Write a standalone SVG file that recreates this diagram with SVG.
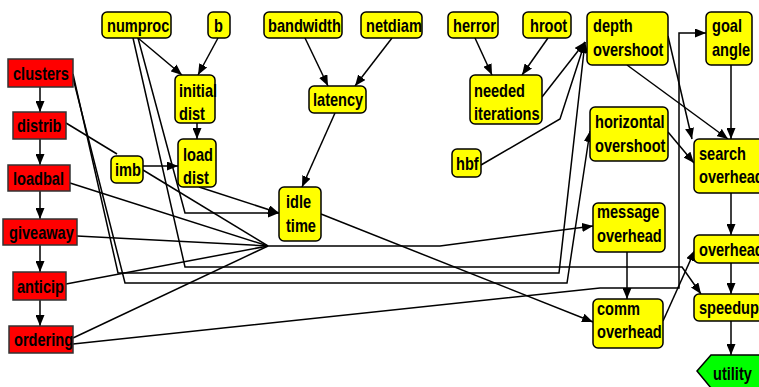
<svg xmlns="http://www.w3.org/2000/svg" width="759" height="387" viewBox="0 0 759 387">
<style>
.y{fill:#ffff00;stroke:#000;stroke-width:1.5}
.r{fill:#ff0000;stroke:#333;stroke-width:1.5}
.g{fill:#00ff00;stroke:#000;stroke-width:1.5}
.t{font-family:"Liberation Sans",Arial,sans-serif;font-weight:bold;font-size:18px;fill:#000}
.e path{fill:none;stroke:#000;stroke-width:1.5}
</style>
<defs>
<marker id="a" markerUnits="userSpaceOnUse" markerWidth="11" markerHeight="9" refX="11" refY="4.5" orient="auto">
<path d="M0,0 L11,4.5 L0,9 z" fill="#000"/>
</marker>
</defs>
<rect width="759" height="387" fill="#fff"/>
<g class="e" id="connectors">
<path d="M138,38 L182,75" marker-end="url(#a)"/>
<path d="M218,38 L198,75" marker-end="url(#a)"/>
<path d="M197,123 L197,139" marker-end="url(#a)"/>
<path d="M143,166 L178,166" marker-end="url(#a)"/>
<path d="M66,123 L117,154"/>
<path d="M138,38 L185,213 L279,213" marker-end="url(#a)"/>
<path d="M199,187 L279,213" marker-end="url(#a)"/>
<path d="M335,113 L302,187" marker-end="url(#a)"/>
<path d="M305,38 L328,86" marker-end="url(#a)"/>
<path d="M392,38 L355,86" marker-end="url(#a)"/>
<path d="M133,38 L185,267 L682,267 L701,294" marker-end="url(#a)"/>
<path d="M73,74 L118,273 L559,273 L585,42" marker-end="url(#a)"/>
<path d="M73,78 L125,283 L567,283 L590,131" marker-end="url(#a)"/>
<path d="M475,38 L492,75" marker-end="url(#a)"/>
<path d="M548,38 L522,75" marker-end="url(#a)"/>
<path d="M542,97 L585,42" marker-end="url(#a)"/>
<path d="M481,165 L560,119 L585,42" marker-end="url(#a)"/>
<path d="M627,65 L728,139" marker-end="url(#a)"/>
<path d="M668,36 L692,139" marker-end="url(#a)"/>
<path d="M668,132 L694,163" marker-end="url(#a)"/>
<path d="M731,65 L731,139" marker-end="url(#a)"/>
<path d="M731,193 L731,235" marker-end="url(#a)"/>
<path d="M731,263 L731,294" marker-end="url(#a)"/>
<path d="M731,321 L731,355" marker-end="url(#a)"/>
<path d="M627,252 L627,299" marker-end="url(#a)"/>
<path d="M663,321 L695,250" marker-end="url(#a)"/>
<path d="M321,214 L593,322" marker-end="url(#a)"/>
<path d="M70,183 L268,246"/>
<path d="M77,236 L268,246"/>
<path d="M143,170 L268,246"/>
<path d="M66,284 L268,246"/>
<path d="M73,338 L268,246"/>
<path d="M268,246 L440,246 L593,226" marker-end="url(#a)"/>
<path d="M73,344 L600,288 L679,288 L679,33 L706,33" marker-end="url(#a)"/>
<path d="M40,87 L40,112" marker-end="url(#a)"/>
<path d="M40,139 L40,165" marker-end="url(#a)"/>
<path d="M40,191 L40,219" marker-end="url(#a)"/>
<path d="M40,245 L40,272" marker-end="url(#a)"/>
<path d="M40,300 L40,326" marker-end="url(#a)"/>
</g>
<g id="clusters"><rect class="r" x="8" y="59" width="65" height="28"/><text class="t" transform="translate(13,80) scale(.81,1)">clusters</text></g>
<g id="distrib"><rect class="r" x="13" y="112" width="53" height="27"/><text class="t" transform="translate(17,132) scale(.81,1)">distrib</text></g>
<g id="loadbal"><rect class="r" x="8" y="165" width="62" height="26"/><text class="t" transform="translate(13,185) scale(.81,1)">loadbal</text></g>
<g id="giveaway"><rect class="r" x="3" y="219" width="74" height="26"/><text class="t" transform="translate(9,239) scale(.81,1)">giveaway</text></g>
<g id="anticip"><rect class="r" x="13" y="272" width="53" height="28"/><text class="t" transform="translate(17,293) scale(.81,1)">anticip</text></g>
<g id="ordering"><rect class="r" x="9" y="326" width="64" height="27"/><text class="t" transform="translate(14,346) scale(.81,1)">ordering</text></g>
<g id="numproc"><rect class="y" x="102" y="12" width="69" height="26" rx="5"/><text class="t" transform="translate(107,32) scale(.81,1)">numproc</text></g>
<g id="b"><rect class="y" x="208" y="12" width="22" height="26" rx="5"/><text class="t" transform="translate(214,32) scale(.81,1)">b</text></g>
<g id="bandwidth"><rect class="y" x="264" y="12" width="78" height="26" rx="5"/><text class="t" transform="translate(268,32) scale(.81,1)">bandwidth</text></g>
<g id="netdiam"><rect class="y" x="361" y="12" width="61" height="26" rx="5"/><text class="t" transform="translate(366,32) scale(.81,1)">netdiam</text></g>
<g id="herror"><rect class="y" x="448" y="12" width="50" height="26" rx="5"/><text class="t" transform="translate(453,32) scale(.81,1)">herror</text></g>
<g id="hroot"><rect class="y" x="523" y="12" width="48" height="26" rx="5"/><text class="t" transform="translate(530,32) scale(.81,1)">hroot</text></g>
<g id="depth_overshoot"><rect class="y" x="587" y="12" width="81" height="53" rx="5"/><text class="t" transform="translate(593,32) scale(.81,1)"><tspan x="0" y="0">depth</tspan><tspan x="0" y="24">overshoot</tspan></text></g>
<g id="goal_angle"><rect class="y" x="706" y="12" width="46" height="53" rx="5"/><text class="t" transform="translate(712,32) scale(.81,1)"><tspan x="0" y="0">goal</tspan><tspan x="0" y="24">angle</tspan></text></g>
<g id="initial_dist"><rect class="y" x="175" y="75" width="40" height="48" rx="5"/><text class="t" transform="translate(179,97) scale(.81,1)"><tspan x="0" y="0">initial</tspan><tspan x="0" y="23">dist</tspan></text></g>
<g id="load_dist"><rect class="y" x="178" y="139" width="38" height="48" rx="5"/><text class="t" transform="translate(183,161) scale(.81,1)"><tspan x="0" y="0">load</tspan><tspan x="0" y="23">dist</tspan></text></g>
<g id="imb"><rect class="y" x="111" y="156" width="32" height="27" rx="5"/><text class="t" transform="translate(115,176) scale(.81,1)">imb</text></g>
<g id="latency"><rect class="y" x="309" y="86" width="57" height="27" rx="5"/><text class="t" transform="translate(313,106) scale(.81,1)">latency</text></g>
<g id="idle_time"><rect class="y" x="279" y="187" width="42" height="54" rx="5"/><text class="t" transform="translate(286,208) scale(.81,1)"><tspan x="0" y="0">idle</tspan><tspan x="0" y="24">time</tspan></text></g>
<g id="needed_iterations"><rect class="y" x="470" y="75" width="72" height="49" rx="5"/><text class="t" transform="translate(474,97) scale(.81,1)"><tspan x="0" y="0">needed</tspan><tspan x="0" y="23">iterations</tspan></text></g>
<g id="hbf"><rect class="y" x="452" y="149" width="29" height="28" rx="5"/><text class="t" transform="translate(456,170) scale(.81,1)">hbf</text></g>
<g id="horizontal_overshoot"><rect class="y" x="590" y="107" width="78" height="54" rx="5"/><text class="t" transform="translate(595,128) scale(.81,1)"><tspan x="0" y="0">horizontal</tspan><tspan x="0" y="24">overshoot</tspan></text></g>
<g id="search_overhead"><rect class="y" x="694" y="139" width="80" height="54" rx="5"/><text class="t" transform="translate(699,160) scale(.81,1)"><tspan x="0" y="0">search</tspan><tspan x="0" y="23">overhead</tspan></text></g>
<g id="message_overhead"><rect class="y" x="593" y="203" width="72" height="49" rx="5"/><text class="t" transform="translate(597,218) scale(.81,1)"><tspan x="0" y="0">message</tspan><tspan x="0" y="24">overhead</tspan></text></g>
<g id="overhead"><rect class="y" x="694" y="235" width="80" height="28" rx="5"/><text class="t" transform="translate(699,256) scale(.81,1)">overhead</text></g>
<g id="comm_overhead"><rect class="y" x="593" y="299" width="70" height="49" rx="5"/><text class="t" transform="translate(597,315) scale(.81,1)"><tspan x="0" y="0">comm</tspan><tspan x="0" y="23">overhead</tspan></text></g>
<g id="speedup"><rect class="y" x="694" y="294" width="70" height="27" rx="5"/><text class="t" transform="translate(699,314) scale(.81,1)">speedup</text></g>
<g id="utility"><polygon class="g" points="697,371 711,355 772,355 786,371 772,388 711,388"/><text class="t" transform="translate(713,380) scale(.81,1)">utility</text></g>
</svg>
